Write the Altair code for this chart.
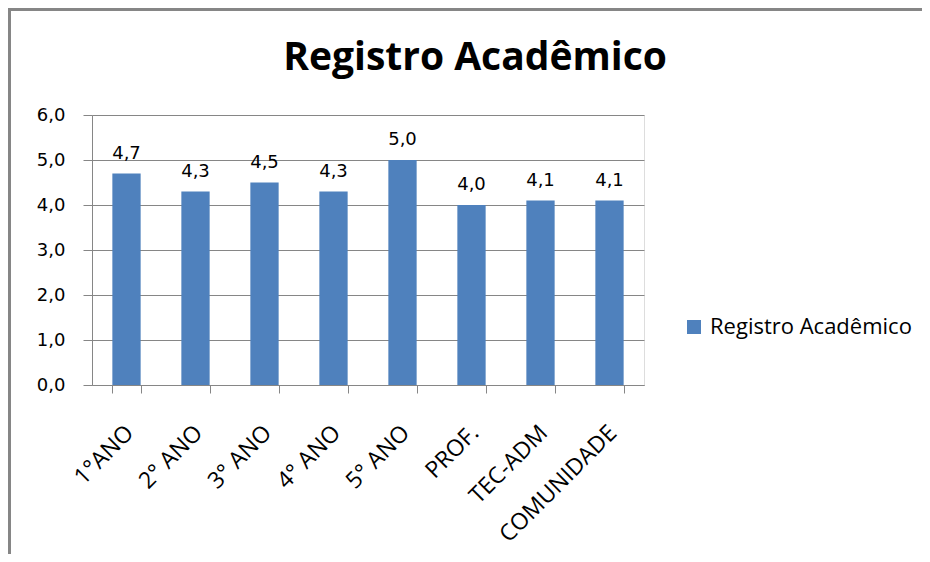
import altair as alt
import pandas as pd

categories = ["1°ANO", "2° ANO", "3° ANO", "4° ANO", "5° ANO", "PROF.", "TEC-ADM", "COMUNIDADE"]
values = [4.7, 4.3, 4.5, 4.3, 5.0, 4.0, 4.1, 4.1]
series_name = "Registro Acadêmico"
y_ticks = [0, 1, 2, 3, 4, 5, 6]

df = pd.DataFrame({
    "cat": categories,
    "val": values,
    "label": [f"{v:.1f}".replace(".", ",") for v in values],
    "series": [series_name] * len(categories),
})

GRAY = "#868686"
BLUE = "#4F81BD"
W, H = 552, 270
PAD_L, PAD_T = 84, 107
TOTAL_W, TOTAL_H = 914, 546

x_enc = alt.X(
    "cat:N", sort=categories, title=None,
    scale=alt.Scale(paddingInner=0.59, paddingOuter=0.295),
    axis=alt.Axis(
        labelAngle=-45, labelAlign="right", labelBaseline="middle",
        labelFont="Open Sans", labelFontSize=23, labelColor="#000000",
        labelPadding=36, labelOffset=3,
        tickBand="extent", tickSize=8, tickColor=GRAY, domainColor=GRAY,
        domainWidth=1, tickWidth=1, grid=False,
    ),
)

y_enc = alt.Y(
    "val:Q", title=None,
    scale=alt.Scale(domain=[0, 6], nice=False),
    axis=alt.Axis(
        values=y_ticks,
        labelExpr="replace(format(datum.value, '.1f'), '.', ',')",
        labelFont="DejaVu Sans", labelFontSize=18, labelColor="#000000",
        labelPadding=18, tickSize=9, tickColor=GRAY, domainColor=GRAY,
        gridColor=GRAY, grid=True, gridOpacity=1,
    ),
)

bars = alt.Chart(df).mark_bar().encode(
    x=x_enc,
    y=y_enc,
    color=alt.Color(
        "series:N", title=None,
        scale=alt.Scale(domain=[series_name], range=[BLUE]),
        legend=alt.Legend(
            orient="none", legendX=591, legendY=201,
            symbolType="square", symbolSize=196, symbolStrokeWidth=0,
            labelFont="Open Sans", labelFontSize=22, labelColor="#000000",
            labelOffset=5, padding=0, labelLimit=400,
        ),
    ),
)

labels = alt.Chart(df).mark_text(
    font="DejaVu Sans", fontSize=18, color="#000000",
    baseline="alphabetic", dy=-15,
).encode(
    x=alt.X("cat:N", sort=categories),
    y="val:Q",
    text="label:N",
)

frame = alt.Chart(df).mark_rect(
    fillOpacity=0, stroke=GRAY, strokeWidth=3,
).encode(
    x=alt.value(-PAD_L + 1.5), x2=alt.value(TOTAL_W + 50),
    y=alt.value(-PAD_T + 1.5), y2=alt.value(TOTAL_H + 50),
)

chart = alt.layer(bars, labels, frame).properties(
    width=W, height=H,
    title=alt.TitleParams(
        series_name, font="Open Sans", fontSize=39, fontWeight="bold",
        color="#000000", anchor="middle", frame="group", dx=107, dy=70,
        offset=0,
    ),
    autosize=alt.AutoSizeParams(type="none"),
    padding={"left": PAD_L, "top": PAD_T, "right": TOTAL_W - PAD_L - W, "bottom": TOTAL_H - PAD_T - H},
).configure_view(stroke=None).configure(background="#FFFFFF")

chart.save("out.html", embed_options={"renderer": "svg", "actions": False})
